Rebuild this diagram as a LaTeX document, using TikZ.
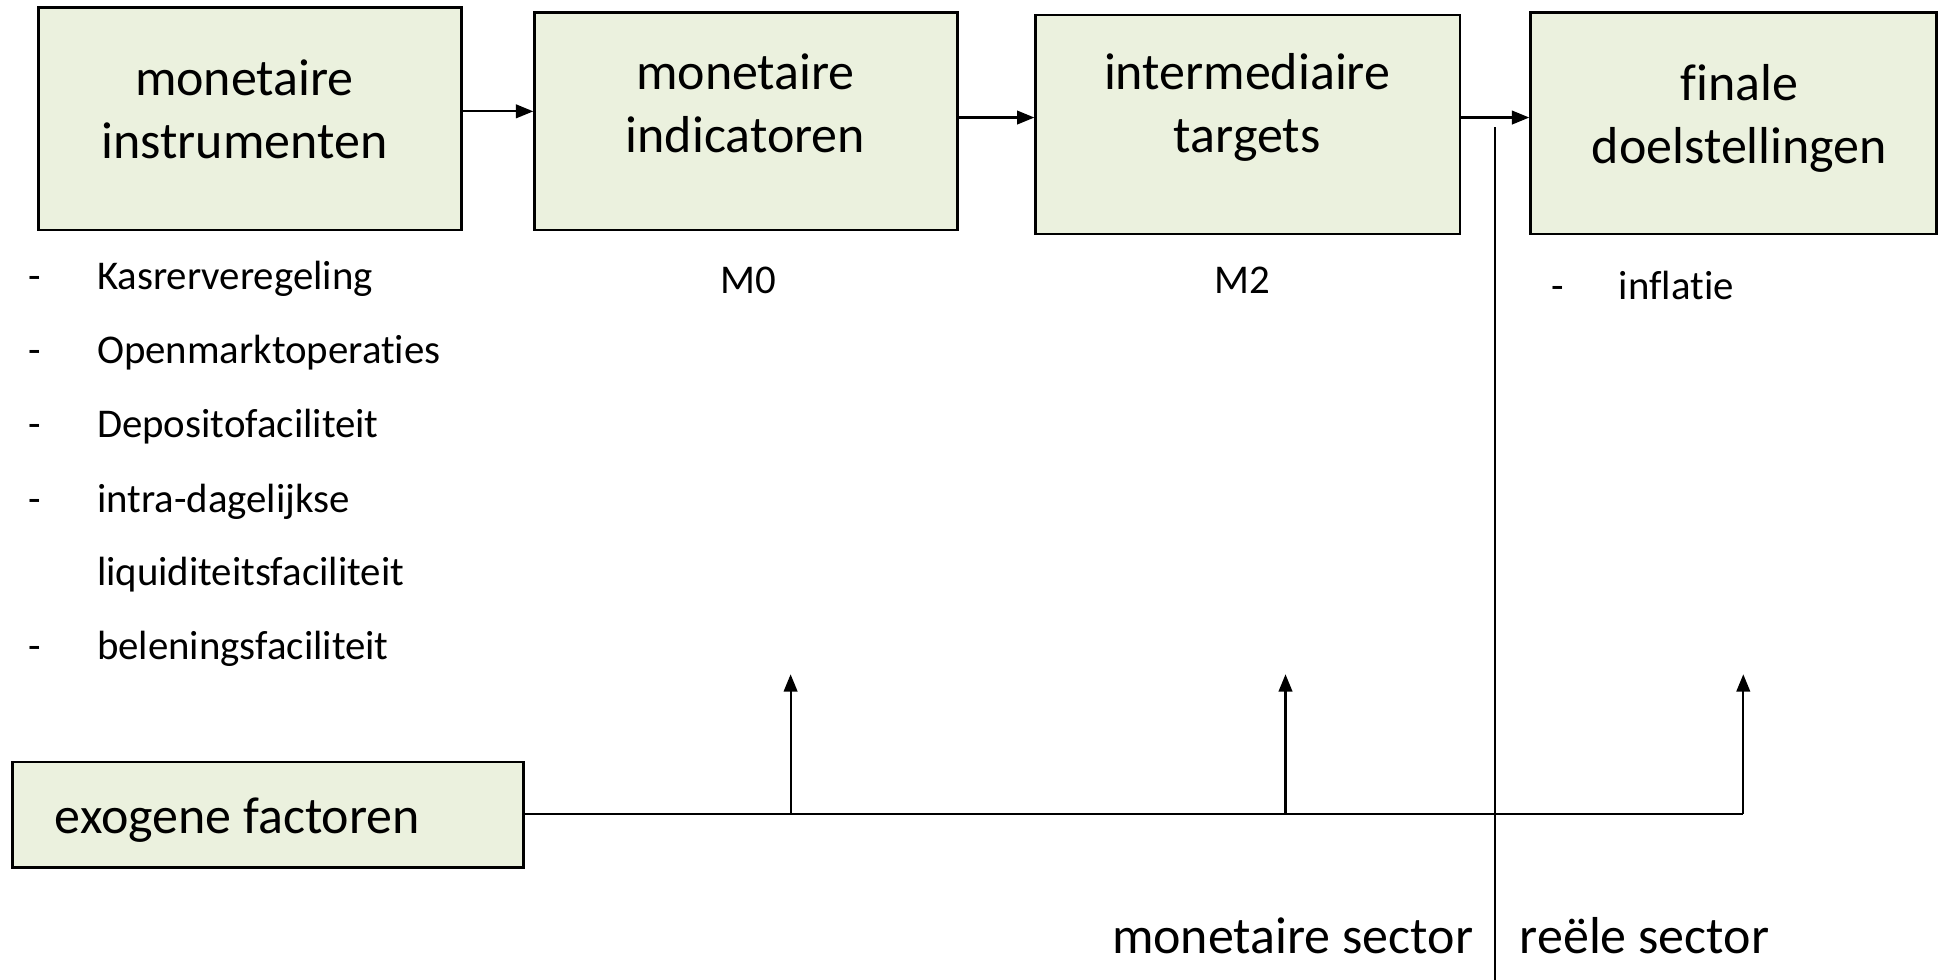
\documentclass[tikz,border=0pt]{standalone}
\usepackage{fontspec}
\setmainfont{Carlito}[RawFeature={-liga;-clig;-dlig}]
\usetikzlibrary{arrows.meta}
\definecolor{boxfill}{HTML}{EBF1DE}
\begin{document}
\begin{tikzpicture}[x=0.5pt,y=-0.5pt,
  box/.style={draw=black, line width=1pt, fill=boxfill, inner sep=0pt},
  big/.style={font=\fontsize{21}{25.6}\selectfont, inner sep=0pt, anchor=base},
  bigl/.style={font=\fontsize{21}{25.6}\selectfont, inner sep=0pt, anchor=base west},
  bigr/.style={font=\fontsize{21}{25.6}\selectfont, inner sep=0pt, anchor=base east},
  small/.style={font=\fontsize{16.5}{20}\selectfont, inner sep=0pt, anchor=base west},
  smallc/.style={font=\fontsize{16.5}{20}\selectfont, inner sep=0pt, anchor=base},
  arr/.style={line width=0.85pt, -{Triangle[length=7pt,width=5.5pt]}},
  ln/.style={line width=0.85pt}]
\useasboundingbox (0,0) rectangle (1568,792);

% boxes
\node[box, minimum width=171pt, minimum height=90pt] (b1) at (202,96) {};
\node[box, minimum width=171pt, minimum height=88pt] (b2) at (603,98) {};
\node[box, minimum width=171.5pt, minimum height=88.5pt] (b3) at (1008.5,100.5) {};
\node[box, minimum width=164pt, minimum height=89.5pt] (b4) at (1401,99.5) {};
\node[box, minimum width=206.5pt, minimum height=42.5pt] (exo) at (216.5,658.5) {};

% box texts
\node[big] (t1a) at (197.5,77) {monetaire};
\node[big] (t1b) at (197.5,128) {instrumenten};
\node[big] (t2a) at (602.5,72.5) {monetaire};
\node[big] (t2b) at (602.5,123.5) {indicatoren};
\node[big] (t3a) at (1008,72.5) {intermediaire};
\node[big] (t3b) at (1008,123.5) {targets};
\node[big] (t4a) at (1406,81) {finale};
\node[big] (t4b) at (1406,132) {doelstellingen};
\node[bigl] (tex) at (44,674) {exogene factoren};

% horizontal arrows
\coordinate (h1) at (0,90);
\coordinate (h2) at (0,95);
\draw[arr] (b1.east |- h1) -- (b2.west |- h1);
\draw[arr] (b2.east |- h2) -- (b3.west |- h2);
\draw[arr] (b3.east |- h2) -- (b4.west |- h2);

% list under box 1
\node[smallc] (d1) at (28,234) {-};
\node[small] (l1) at (78,234) {Kasrerveregeling};
\node[smallc] (d2) at (28,294) {-};
\node[small] (l2) at (78,294) {Openmarktoperaties};
\node[smallc] (d3) at (28,354) {-};
\node[small] (l3) at (78,354) {Depositofaciliteit};
\node[smallc] (d4) at (28,414) {-};
\node[small] (l4) at (78,414) {intra-dagelijkse};
\node[small] (l5) at (78,473.5) {liquiditeitsfaciliteit};
\node[smallc] (d6) at (28,533) {-};
\node[small] (l6) at (78,533) {beleningsfaciliteit};

\node[smallc] (m0) at (605,237) {M0};
\node[smallc] (m2) at (1004,237) {M2};
\node[smallc] (d7) at (1259,242) {-};
\node[small] (infl) at (1308,242) {inflatie};

% exogenous line and up arrows
\coordinate (j1) at (639,658);
\coordinate (j2) at (1039,658);
\coordinate (j3) at (1409,658);
\coordinate (u1) at (639,545);
\coordinate (u2) at (1039,545);
\coordinate (u3) at (1409,545);
\draw[ln] (exo.east |- j1) -- (j3);
\draw[arr] (j1) -- (u1);
\draw[arr] (j2) -- (u2);
\draw[arr] (j3) -- (u3);

% sector divider
\coordinate (s1) at (1208,103);
\coordinate (s2) at (1208,792);
\draw[ln] (s1) -- (s2);
\node[bigr] (ms) at (1191,771) {monetaire sector};
\node[bigl] (rs) at (1228,771) {reële sector};
\end{tikzpicture}
\end{document}
